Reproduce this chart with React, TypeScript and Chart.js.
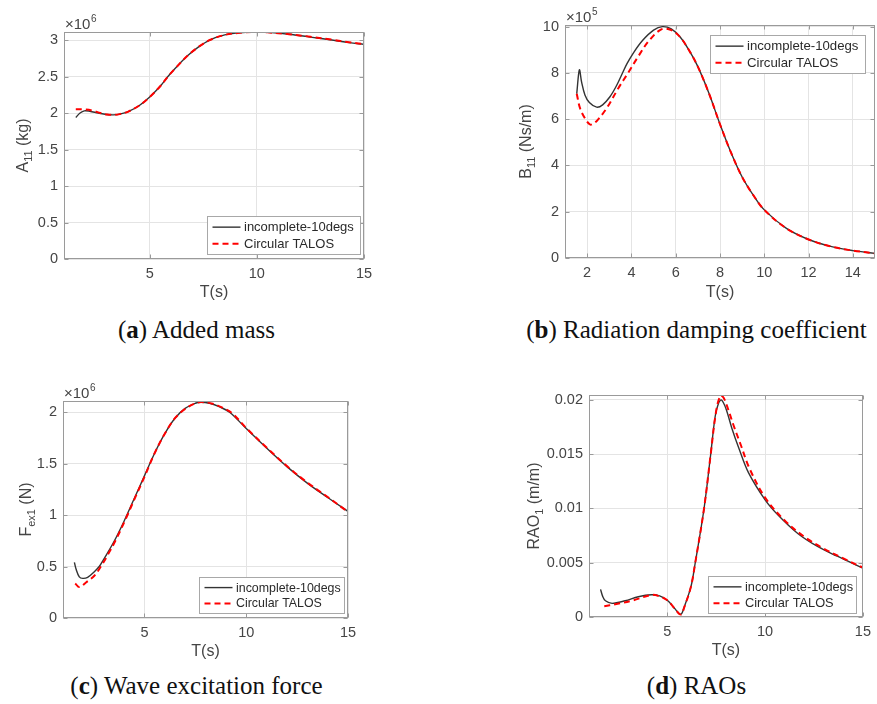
import React, { useEffect, useRef } from 'react';
import { Chart, registerables } from 'chart.js';

Chart.register(...registerables);

// ---------- DATA ----------
const LEGEND_LABELS = ['incomplete-10degs', 'Circular TALOS'];

// (a) Added mass A11, units x10^6 kg
const addedMassT_incomplete = [1.55, 1.75, 1.95, 2.2, 2.6, 3.0, 3.3, 3.6, 4.0, 4.5, 5.0, 5.5, 5.85, 6.25, 6.75, 7.25, 7.8, 8.5, 9.2, 9.8, 10.5, 11.5, 12.5, 13.5, 14.3, 15];
const addedMass_incomplete = [1.94, 2.0, 2.03, 2.025, 2.0, 1.98, 1.975, 1.985, 2.02, 2.1, 2.22, 2.37, 2.5, 2.63, 2.78, 2.9, 3.0, 3.07, 3.1, 3.11, 3.105, 3.08, 3.04, 3.0, 2.965, 2.94];
const addedMassT_talos = [1.55, 1.9, 2.3, 2.7, 3.0, 3.3, 3.6, 4.0, 4.5, 5.0, 5.5, 5.85, 6.25, 6.75, 7.25, 7.8, 8.5, 9.2, 9.8, 10.5, 11.5, 12.5, 13.5, 14.3, 15];
const addedMass_talos = [2.05, 2.05, 2.035, 2.0, 1.98, 1.975, 1.985, 2.02, 2.1, 2.22, 2.37, 2.5, 2.63, 2.78, 2.9, 3.0, 3.07, 3.1, 3.11, 3.105, 3.08, 3.045, 3.005, 2.97, 2.945];

// (b) Radiation damping B11, units x10^5 Ns/m
const dampingT_incomplete = [1.53, 1.65, 1.75, 1.9, 2.1, 2.43, 2.7, 3.03, 3.3, 3.55, 3.8, 4.1, 4.5, 5.0, 5.4, 5.8, 6.2, 6.6, 7.0, 7.5, 8.0, 8.5, 9.0, 9.5, 10, 11, 12, 13, 14, 15];
const damping_incomplete = [7.1, 8.13, 7.6, 7.05, 6.72, 6.52, 6.62, 6.97, 7.4, 7.9, 8.4, 8.88, 9.4, 9.85, 10.0, 9.9, 9.55, 8.98, 8.27, 7.12, 5.78, 4.55, 3.5, 2.72, 2.08, 1.28, 0.8, 0.5, 0.32, 0.2];
const dampingT_talos = [1.53, 1.68, 1.9, 2.13, 2.3, 2.46, 2.88, 3.41, 3.85, 4.3, 4.8, 5.37, 5.8, 6.2, 6.6, 7.0, 7.5, 8.0, 8.5, 9.0, 9.5, 10, 11, 12, 13, 14, 15];
const damping_talos = [7.1, 6.47, 6.04, 5.77, 5.82, 5.95, 6.47, 7.34, 8.0, 8.7, 9.4, 9.89, 9.85, 9.55, 8.98, 8.27, 7.12, 5.78, 4.55, 3.5, 2.72, 2.08, 1.28, 0.8, 0.5, 0.32, 0.2];

// (c) Wave excitation force Fex1, units x10^6 N
const forceT_incomplete = [1.56, 1.64, 1.8, 1.97, 2.21, 2.54, 2.78, 3.0, 3.5, 4.0, 4.5, 5.0, 5.5, 6.0, 6.5, 7.0, 7.5, 7.75, 8.2, 8.7, 9.2, 10, 11, 12, 13, 14, 15];
const force_incomplete = [0.54, 0.475, 0.4, 0.385, 0.395, 0.45, 0.5, 0.57, 0.74, 0.94, 1.16, 1.38, 1.6, 1.79, 1.94, 2.035, 2.085, 2.095, 2.085, 2.05, 1.995, 1.84, 1.65, 1.47, 1.31, 1.17, 1.035];
const forceT_talos = [1.6, 1.8, 2.13, 2.54, 2.86, 3.19, 3.6, 4.1, 4.5, 5.0, 5.5, 6.0, 6.5, 7.0, 7.5, 7.8, 8.3, 8.8, 9.3, 10, 11, 12, 13, 14, 15];
const force_talos = [0.336, 0.3, 0.345, 0.41, 0.5, 0.61, 0.76, 0.97, 1.15, 1.37, 1.6, 1.79, 1.94, 2.03, 2.085, 2.097, 2.083, 2.045, 1.99, 1.845, 1.655, 1.475, 1.315, 1.175, 1.03];

// (d) RAO1, m/m
const raoT_incomplete = [1.59, 1.7, 1.84, 2.18, 2.85, 3.52, 4.19, 4.61, 5.03, 5.37, 5.69, 5.87, 6.21, 6.43, 6.88, 7.22, 7.45, 7.62, 7.77, 8.0, 8.3, 8.65, 9.15, 10.0, 10.66, 11.67, 12.68, 13.69, 15];
const rao_incomplete = [0.00255, 0.0019, 0.0015, 0.00126, 0.0015, 0.00187, 0.00205, 0.00194, 0.0015, 0.0008, 0.00025, 0.00095, 0.0028, 0.005, 0.01, 0.015, 0.0185, 0.0197, 0.02, 0.0192, 0.0174, 0.0156, 0.0133, 0.0108, 0.0094, 0.0077, 0.0065, 0.0056, 0.0045];
const raoT_talos = [1.78, 2.34, 3.19, 4.19, 4.61, 5.03, 5.37, 5.69, 5.87, 6.21, 6.43, 6.88, 7.22, 7.5, 7.72, 7.88, 8.1, 8.4, 8.75, 9.2, 10, 11, 12, 13, 14, 15];
const rao_talos = [0.001, 0.00117, 0.0015, 0.00203, 0.0019, 0.0015, 0.0008, 0.00022, 0.0009, 0.0028, 0.005, 0.01, 0.015, 0.019, 0.0204, 0.0202, 0.0192, 0.0176, 0.0159, 0.0137, 0.011, 0.0089, 0.0074, 0.0063, 0.0054, 0.00455];

// tick labels
const xTicks_a = [5, 10, 15];
const yTicks_a = [0, 0.5, 1, 1.5, 2, 2.5, 3];
const xTicks_b = [2, 4, 6, 8, 10, 12, 14];
const yTicks_b = [0, 2, 4, 6, 8, 10];
const xTicks_c = [5, 10, 15];
const yTicks_c = [0, 0.5, 1, 1.5, 2];
const xTicks_d = [5, 10, 15];
const yTicks_d = [0, 0.005, 0.01, 0.015, 0.02];

// ---------- STYLE ----------
const SANS = '"Liberation Sans", Arial, Helvetica, sans-serif';
const TEXT = '#454545';
const GRID = '#e4e4e4';
const BOX = '#9a9a9a';

type Box = { left: number; top: number; w: number; h: number };
type Plot = { l: number; t: number; r: number; b: number };
type Legend = { right: number; top?: number; bottom?: number; w: number; h: number; font: number };
type PanelCfg = {
  key: string;
  canvas: Box;
  plot: Plot;
  yMax: number;
  xTicks: number[];
  yTicks: number[];
  t1: number[]; v1: number[];
  t2: number[]; v2: number[];
  yLabel: [string, string, string];
  yLabelX: number;
  xLabelY: number;
  exponent: string | null;
  legend: Legend;
  caption: { tag: string; text: string; cx: number; cy: number };
};

const zip = (t: number[], v: number[]) => t.map((x, i) => ({ x, y: v[i] }));

const PANELS: PanelCfg[] = [
  {
    key: 'a',
    canvas: { left: 0, top: 0, w: 440, h: 310 },
    plot: { l: 64, t: 32, r: 364, b: 259 },
    yMax: 3.11,
    xTicks: xTicks_a, yTicks: yTicks_a,
    t1: addedMassT_incomplete, v1: addedMass_incomplete,
    t2: addedMassT_talos, v2: addedMass_talos,
    yLabel: ['A', '11', ' (kg)'], yLabelX: 22, xLabelY: 293,
    exponent: '6',
    legend: { right: 4, bottom: 5, w: 153, h: 38, font: 13 },
    caption: { tag: 'a', text: ' Added mass', cx: 196.5, cy: 332 },
  },
  {
    key: 'b',
    canvas: { left: 470, top: 0, w: 407, h: 310 },
    plot: { l: 565, t: 25, r: 875, b: 258 },
    yMax: 10.07,
    xTicks: xTicks_b, yTicks: yTicks_b,
    t1: dampingT_incomplete, v1: damping_incomplete,
    t2: dampingT_talos, v2: damping_talos,
    yLabel: ['B', '11', ' (Ns/m)'], yLabelX: 525, xLabelY: 293,
    exponent: '5',
    legend: { right: 10, top: 10, w: 155, h: 38, font: 13.2 },
    caption: { tag: 'b', text: ' Radiation damping coefficient', cx: 696.5, cy: 332 },
  },
  {
    key: 'c',
    canvas: { left: 0, top: 360, w: 440, h: 310 },
    plot: { l: 63, t: 401, r: 348, b: 618 },
    yMax: 2.107,
    xTicks: xTicks_c, yTicks: yTicks_c,
    t1: forceT_incomplete, v1: force_incomplete,
    t2: forceT_talos, v2: force_talos,
    yLabel: ['F', 'ex1', ' (N)'], yLabelX: 25, xLabelY: 652,
    exponent: '6',
    legend: { right: 4, bottom: 5, w: 145, h: 36, font: 12.4 },
    caption: { tag: 'c', text: ' Wave excitation force', cx: 196.5, cy: 688 },
  },
  {
    key: 'd',
    canvas: { left: 470, top: 360, w: 407, h: 310 },
    plot: { l: 589, t: 395, r: 866, b: 617 },
    yMax: 0.02046,
    xTicks: xTicks_d, yTicks: yTicks_d,
    t1: raoT_incomplete, v1: rao_incomplete,
    t2: raoT_talos, v2: rao_talos,
    yLabel: ['RAO', '1', ' (m/m)'], yLabelX: 533, xLabelY: 651,
    exponent: null,
    legend: { right: 7, bottom: 4, w: 148, h: 37, font: 12.8 },
    caption: { tag: 'd', text: ' RAOs', cx: 696.5, cy: 688 },
  },
];

function Panel({ p }: { p: PanelCfg }) {
  const ref = useRef<HTMLCanvasElement | null>(null);

  useEffect(() => {
    const canvas = ref.current;
    if (!canvas) return;
    const padTop = p.plot.t - p.canvas.top;
    const padRight = p.canvas.left + p.canvas.w - p.plot.r;
    const yW = p.plot.l - p.canvas.left;
    const xH = p.canvas.top + p.canvas.h - p.plot.b;
    const ox = p.canvas.left;
    const oy = p.canvas.top;

    const decor = {
      id: 'decor_' + p.key,
      afterDraw(chart: any) {
        const { ctx, chartArea: ca, scales } = chart;
        ctx.save();
        const L = Math.round(ca.left) + 0.5;
        const T = Math.round(ca.top) + 0.5;
        const R = Math.round(ca.right) - 0.5;
        const B = Math.round(ca.bottom) - 0.5;
        // inner tick marks
        ctx.strokeStyle = BOX;
        ctx.lineWidth = 1;
        ctx.beginPath();
        for (const v of p.xTicks) {
          const x = Math.round(scales.x.getPixelForValue(v)) + 0.5;
          ctx.moveTo(x, B); ctx.lineTo(x, B - 4);
          ctx.moveTo(x, T); ctx.lineTo(x, T + 4);
        }
        for (const v of p.yTicks) {
          const y = Math.round(scales.y.getPixelForValue(v)) + 0.5;
          ctx.moveTo(L, y); ctx.lineTo(L + 4, y);
          ctx.moveTo(R, y); ctx.lineTo(R - 4, y);
        }
        ctx.stroke();
        // box
        ctx.strokeRect(L, T, R - L, B - T);

        // exponent label
        ctx.fillStyle = TEXT;
        if (p.exponent) {
          ctx.textBaseline = 'alphabetic';
          ctx.textAlign = 'left';
          ctx.font = `15px ${SANS}`;
          const bx = ca.left + 1;
          const by = ca.top - 3;
          ctx.fillText('\u00d710', bx, by);
          const w = ctx.measureText('\u00d710').width;
          ctx.font = `10px ${SANS}`;
          ctx.fillText(p.exponent, bx + w + 0.5, by - 7);
        }

        // y label (rotated, with subscript)
        ctx.save();
        ctx.translate(p.yLabelX - ox, (ca.top + ca.bottom) / 2);
        ctx.rotate(-Math.PI / 2);
        ctx.textAlign = 'left';
        ctx.textBaseline = 'alphabetic';
        const [main, sub, rest] = p.yLabel;
        ctx.font = `16px ${SANS}`;
        const wMain = ctx.measureText(main).width;
        const wRest = ctx.measureText(rest).width;
        ctx.font = `11px ${SANS}`;
        const wSub = ctx.measureText(sub).width;
        let x0 = -(wMain + wSub + wRest) / 2;
        ctx.font = `16px ${SANS}`;
        ctx.fillText(main, x0, 5.5);
        x0 += wMain;
        ctx.font = `11px ${SANS}`;
        ctx.fillText(sub, x0, 10);
        x0 += wSub;
        ctx.font = `16px ${SANS}`;
        ctx.fillText(rest, x0, 5.5);
        ctx.restore();

        // x label
        ctx.font = `16px ${SANS}`;
        ctx.textAlign = 'center';
        ctx.textBaseline = 'middle';
        ctx.fillText('T(s)', (ca.left + ca.right) / 2, p.xLabelY - oy);

        // legend
        const lg = p.legend;
        const lx = Math.round(ca.right - lg.right - lg.w) + 0.5;
        const ly = Math.round(lg.top !== undefined ? ca.top + lg.top : ca.bottom - lg.bottom! - lg.h) + 0.5;
        ctx.fillStyle = '#ffffff';
        ctx.fillRect(lx, ly, lg.w, lg.h);
        ctx.strokeStyle = '#a8a8a8';
        ctx.lineWidth = 1;
        ctx.strokeRect(lx, ly, lg.w, lg.h);
        const rows = [ly + lg.h * 0.28, ly + lg.h * 0.72];
        ctx.beginPath();
        ctx.strokeStyle = '#333333';
        ctx.lineWidth = 1.4;
        ctx.setLineDash([]);
        ctx.moveTo(lx + 5, rows[0]); ctx.lineTo(lx + 33, rows[0]);
        ctx.stroke();
        ctx.beginPath();
        ctx.strokeStyle = '#ff0000';
        ctx.lineWidth = 2;
        ctx.setLineDash([6, 4]);
        ctx.moveTo(lx + 5, rows[1]); ctx.lineTo(lx + 33, rows[1]);
        ctx.stroke();
        ctx.setLineDash([]);
        ctx.fillStyle = '#2a2a2a';
        ctx.font = `${lg.font}px ${SANS}`;
        ctx.textAlign = 'left';
        ctx.textBaseline = 'middle';
        ctx.fillText(LEGEND_LABELS[0], lx + 36.5, rows[0] + 0.5);
        ctx.fillText(LEGEND_LABELS[1], lx + 36.5, rows[1] + 0.5);
        ctx.restore();
      },
    };

    const tickFont = { family: SANS, size: 14.5 };
    const chart = new Chart(canvas, {
      type: 'line',
      data: {
        datasets: [
          {
            label: LEGEND_LABELS[0],
            data: zip(p.t1, p.v1),
            borderColor: '#333333',
            borderWidth: 1.4,
            pointRadius: 0,
            tension: 0.35,
            fill: false,
            order: 1,
          },
          {
            label: LEGEND_LABELS[1],
            data: zip(p.t2, p.v2),
            borderColor: '#ff0000',
            borderWidth: 2,
            borderDash: [6, 4],
            pointRadius: 0,
            tension: 0.35,
            fill: false,
            order: 0,
          },
        ],
      },
      options: {
        responsive: false,
        animation: false,
        devicePixelRatio: 1,
        events: [],
        layout: { padding: { top: padTop, right: padRight, left: 0, bottom: 0 } },
        plugins: { legend: { display: false }, tooltip: { enabled: false } },
        scales: {
          x: {
            type: 'linear',
            min: 1,
            max: 15,
            afterBuildTicks: (s: any) => { s.ticks = p.xTicks.map((v) => ({ value: v })); },
            afterFit: (s: any) => { s.height = xH; },
            grid: { color: GRID, drawTicks: false, lineWidth: 1 },
            border: { display: false },
            ticks: {
              padding: 6,
              color: TEXT,
              font: tickFont,
              maxRotation: 0,
              autoSkip: false,
              callback: (v: any) => String(v),
            },
          },
          y: {
            type: 'linear',
            min: 0,
            max: p.yMax,
            afterBuildTicks: (s: any) => { s.ticks = p.yTicks.map((v) => ({ value: v })); },
            afterFit: (s: any) => { s.width = yW; },
            grid: { color: GRID, drawTicks: false, lineWidth: 1 },
            border: { display: false },
            ticks: {
              padding: 6,
              color: TEXT,
              font: tickFont,
              autoSkip: false,
              callback: (v: any) => String(v),
            },
          },
        },
      } as any,
      plugins: [decor],
    });
    return () => chart.destroy();
  }, [p]);

  return (
    <canvas
      ref={ref}
      width={p.canvas.w}
      height={p.canvas.h}
      style={{ position: 'absolute', left: p.canvas.left, top: p.canvas.top, width: p.canvas.w, height: p.canvas.h }}
    />
  );
}

function Caption({ c }: { c: PanelCfg['caption'] }) {
  const L = 30;
  return (
    <div
      style={{
        position: 'absolute',
        left: c.cx - 250,
        width: 500,
        top: c.cy - L / 2 - 2.5,
        height: L,
        lineHeight: `${L}px`,
        textAlign: 'center',
        fontFamily: '"Liberation Serif", "DejaVu Serif", serif',
        fontSize: 25,
        color: '#111',
        whiteSpace: 'nowrap',
      }}
    >
      (<b>{c.tag}</b>){c.text}
    </div>
  );
}

export default function App() {
  return (
    <div style={{ position: 'absolute', left: 0, top: 0, width: 877, height: 704, background: '#fff', overflow: 'hidden' }}>
      {PANELS.map((p) => (
        <Panel key={p.key} p={p} />
      ))}
      {PANELS.map((p) => (
        <Caption key={'cap' + p.key} c={p.caption} />
      ))}
    </div>
  );
}
